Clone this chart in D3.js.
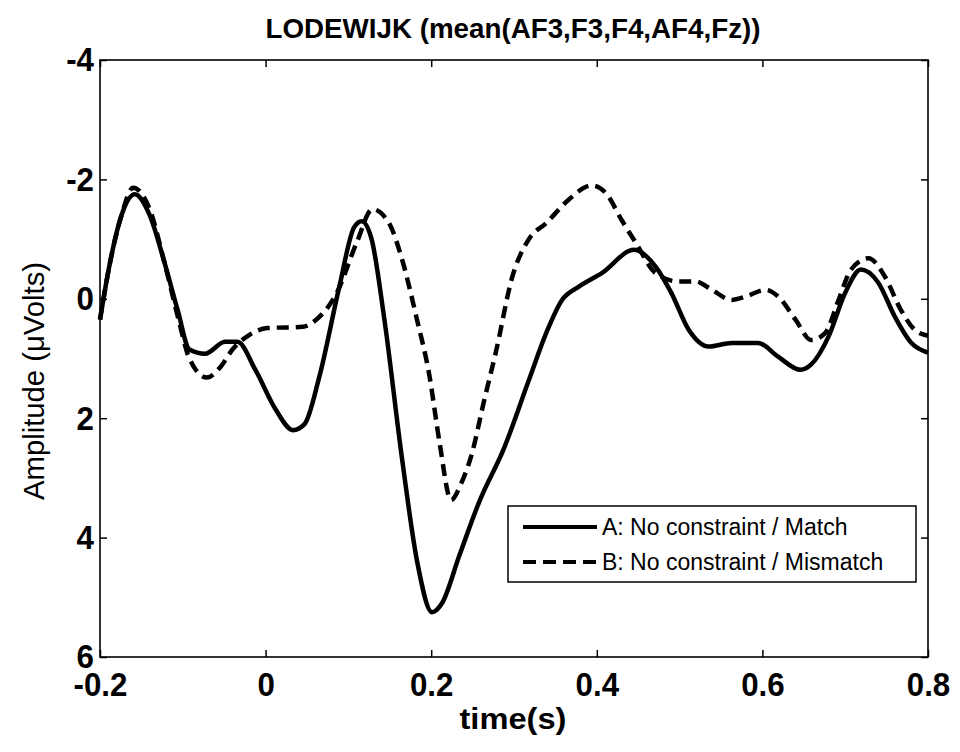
<!DOCTYPE html>
<html>
<head>
<meta charset="utf-8">
<script src="https://cdn.jsdelivr.net/npm/d3@7"></script>
<style>
  body { margin: 0; background: #fff; }
  text { font-family: Arial, "Liberation Sans", sans-serif; fill: #000; }
</style>
</head>
<body>
<svg id="chart" width="960" height="752"></svg>
<script>
// condition A: No constraint / Match (solid)
var timeA = [-0.2, -0.188, -0.174, -0.158, -0.14, -0.122, -0.106, -0.092, -0.073, -0.049, -0.034,
	-0.012, 0.012, 0.033, 0.047, 0.065, 0.089, 0.107, 0.116, 0.128, 0.143, 0.165, 0.183, 0.201,
	0.213, 0.234, 0.258, 0.288, 0.318, 0.339, 0.358, 0.378, 0.406, 0.445, 0.471, 0.49, 0.511,
	0.535, 0.563, 0.595, 0.619, 0.646, 0.659, 0.68, 0.7, 0.719, 0.74, 0.76, 0.78, 0.8];
var ampA = [0.35, -0.6, -1.4, -1.75, -1.4, -0.6, 0.2, 0.85, 0.92, 0.72, 0.72,
	1.2, 1.85, 2.2, 2.1, 1.3, -0.2, -1.2, -1.3, -1.0, 0.3, 2.7, 4.4, 5.25,
	5.1, 4.3, 3.4, 2.5, 1.36, 0.57, 0.02, -0.2, -0.43, -0.82, -0.54, -0.1, 0.52,
	0.8, 0.74, 0.74, 0.97, 1.19, 1.1, 0.63, -0.1, -0.49, -0.27, 0.3, 0.74, 0.9];

// condition B: No constraint / Mismatch (dashed)
var timeB = [-0.2, -0.188, -0.174, -0.16, -0.14, -0.122, -0.106, -0.092, -0.071, -0.055, -0.04,
	-0.019, 0.002, 0.045, 0.061, 0.086, 0.11, 0.129, 0.149, 0.165, 0.182, 0.198, 0.21, 0.224,
	0.236, 0.249, 0.264, 0.278, 0.298, 0.318, 0.339, 0.366, 0.394, 0.411, 0.43, 0.447, 0.471,
	0.499, 0.519, 0.539, 0.563, 0.58, 0.604, 0.619, 0.64, 0.659, 0.676, 0.692, 0.707, 0.728,
	0.748, 0.767, 0.784, 0.8];
var ampB = [0.35, -0.6, -1.4, -1.86, -1.5, -0.6, 0.3, 1.0, 1.32, 1.15, 0.85,
	0.6, 0.49, 0.47, 0.35, -0.1, -0.94, -1.5, -1.27, -0.65, 0.3, 1.3, 2.4, 3.37,
	3.1, 2.6, 1.7, 0.9, -0.37, -1.0, -1.27, -1.66, -1.9, -1.77, -1.32, -0.94, -0.43,
	-0.29, -0.29, -0.15, 0.02, -0.04, -0.15, -0.04, 0.35, 0.69, 0.57, 0.02, -0.49, -0.68,
	-0.37, 0.18, 0.52, 0.62];

var xTicks = [-0.2, 0, 0.2, 0.4, 0.6, 0.8];
var yTicks = [-4, -2, 0, 2, 4, 6];
var legendLabels = ["A: No constraint / Match", "B: No constraint / Mismatch"];

var plotLeft = 100, plotRight = 928, plotTop = 60, plotBottom = 657;
var svg = d3.select("#chart");

var x = d3.scaleLinear().domain([-0.2, 0.8]).range([plotLeft, plotRight]);
// reversed y axis (negative up), as in the original
var y = d3.scaleLinear().domain([-4, 6]).range([plotTop, plotBottom]);

// plain hyphen instead of the unicode minus
function fmtX(d) { return d === 0 ? "0" : d3.format(".1f")(d).replace("\u2212", "-"); }
function fmtY(d) { return String(d); }

// squeeze text horizontally like the narrow font of the original
function narrow(sel, k) {
	sel.each(function () {
		var w = this.getComputedTextLength();
		d3.select(this).attr("textLength", w * k).attr("lengthAdjust", "spacingAndGlyphs");
	});
}

// axes: ticks inside, on all four sides
var tickLen = 7;
var axB = svg.append("g").attr("transform", "translate(0," + plotBottom + ")")
	.call(d3.axisBottom(x).tickValues(xTicks).tickSizeInner(-tickLen).tickSizeOuter(0).tickFormat(fmtX));
axB.selectAll("text").attr("font-size", 34).attr("font-weight", "bold").attr("dy", "0.71em")
	.attr("y", 15).call(narrow, 0.92);
svg.append("g").attr("transform", "translate(0," + plotTop + ")")
	.call(d3.axisTop(x).tickValues(xTicks).tickSizeInner(-tickLen).tickSizeOuter(0).tickFormat(""));
var axL = svg.append("g").attr("transform", "translate(" + plotLeft + ",0)")
	.call(d3.axisLeft(y).tickValues(yTicks).tickSizeInner(-tickLen).tickSizeOuter(0).tickFormat(fmtY));
axL.selectAll("text").attr("font-size", 34).attr("font-weight", "bold").attr("x", -6).call(narrow, 0.92);
svg.append("g").attr("transform", "translate(" + plotRight + ",0)")
	.call(d3.axisRight(y).tickValues(yTicks).tickSizeInner(-tickLen).tickSizeOuter(0).tickFormat(""));
svg.selectAll(".domain").remove();
svg.selectAll(".tick line").attr("stroke", "#000").attr("stroke-width", 1.5);

// frame
svg.append("rect")
	.attr("x", plotLeft).attr("y", plotTop).attr("width", plotRight - plotLeft).attr("height", plotBottom - plotTop)
	.attr("fill", "none").attr("stroke", "#000").attr("stroke-width", 1.6);

// curves
var line = d3.line().curve(d3.curveMonotoneX)
	.x(function (d) { return x(d[0]); })
	.y(function (d) { return y(d[1]); });
var g = svg.append("g");
g.append("path")
	.datum(d3.zip(timeA, ampA))
	.attr("d", line).attr("fill", "none").attr("stroke", "#000").attr("stroke-width", 4.5)
	.attr("stroke-linejoin", "round");
g.append("path")
	.datum(d3.zip(timeB, ampB))
	.attr("d", line).attr("fill", "none").attr("stroke", "#000").attr("stroke-width", 4.5)
	.attr("stroke-dasharray", "12,7");

// title and axis labels
svg.append("text").attr("x", 513).attr("y", 38).attr("text-anchor", "middle")
	.attr("font-size", 27).attr("font-weight", "bold")
	.text("LODEWIJK (mean(AF3,F3,F4,AF4,Fz))")
	.attr("textLength", 495).attr("lengthAdjust", "spacingAndGlyphs");
svg.append("text").attr("x", 513).attr("y", 729).attr("text-anchor", "middle")
	.attr("font-size", 30).attr("font-weight", "bold")
	.text("time(s)")
	.attr("textLength", 107).attr("lengthAdjust", "spacingAndGlyphs");
svg.append("text").attr("transform", "translate(44,381) rotate(-90)").attr("text-anchor", "middle")
	.attr("font-size", 29)
	.text("Amplitude (\u03BCVolts)")
	.attr("textLength", 238).attr("lengthAdjust", "spacingAndGlyphs");

// legend
var lg = svg.append("g");
lg.append("rect").attr("x", 508).attr("y", 506).attr("width", 408).attr("height", 76)
	.attr("fill", "#fff").attr("stroke", "#000").attr("stroke-width", 1.5);
var rows = lg.selectAll("g.row").data(legendLabels).enter().append("g")
	.attr("transform", function (d, i) { return "translate(0," + (527 + i * 35) + ")"; });
rows.append("line").attr("x1", 523).attr("x2", 597).attr("y1", 0).attr("y2", 0)
	.attr("stroke", "#000").attr("stroke-width", 4)
	.attr("stroke-dasharray", function (d, i) { return i ? "13,7" : null; });
rows.append("text").attr("x", 602).attr("y", 0).attr("dy", "0.36em")
	.attr("font-size", 23).text(function (d) { return d; });
</script>
</body>
</html>
